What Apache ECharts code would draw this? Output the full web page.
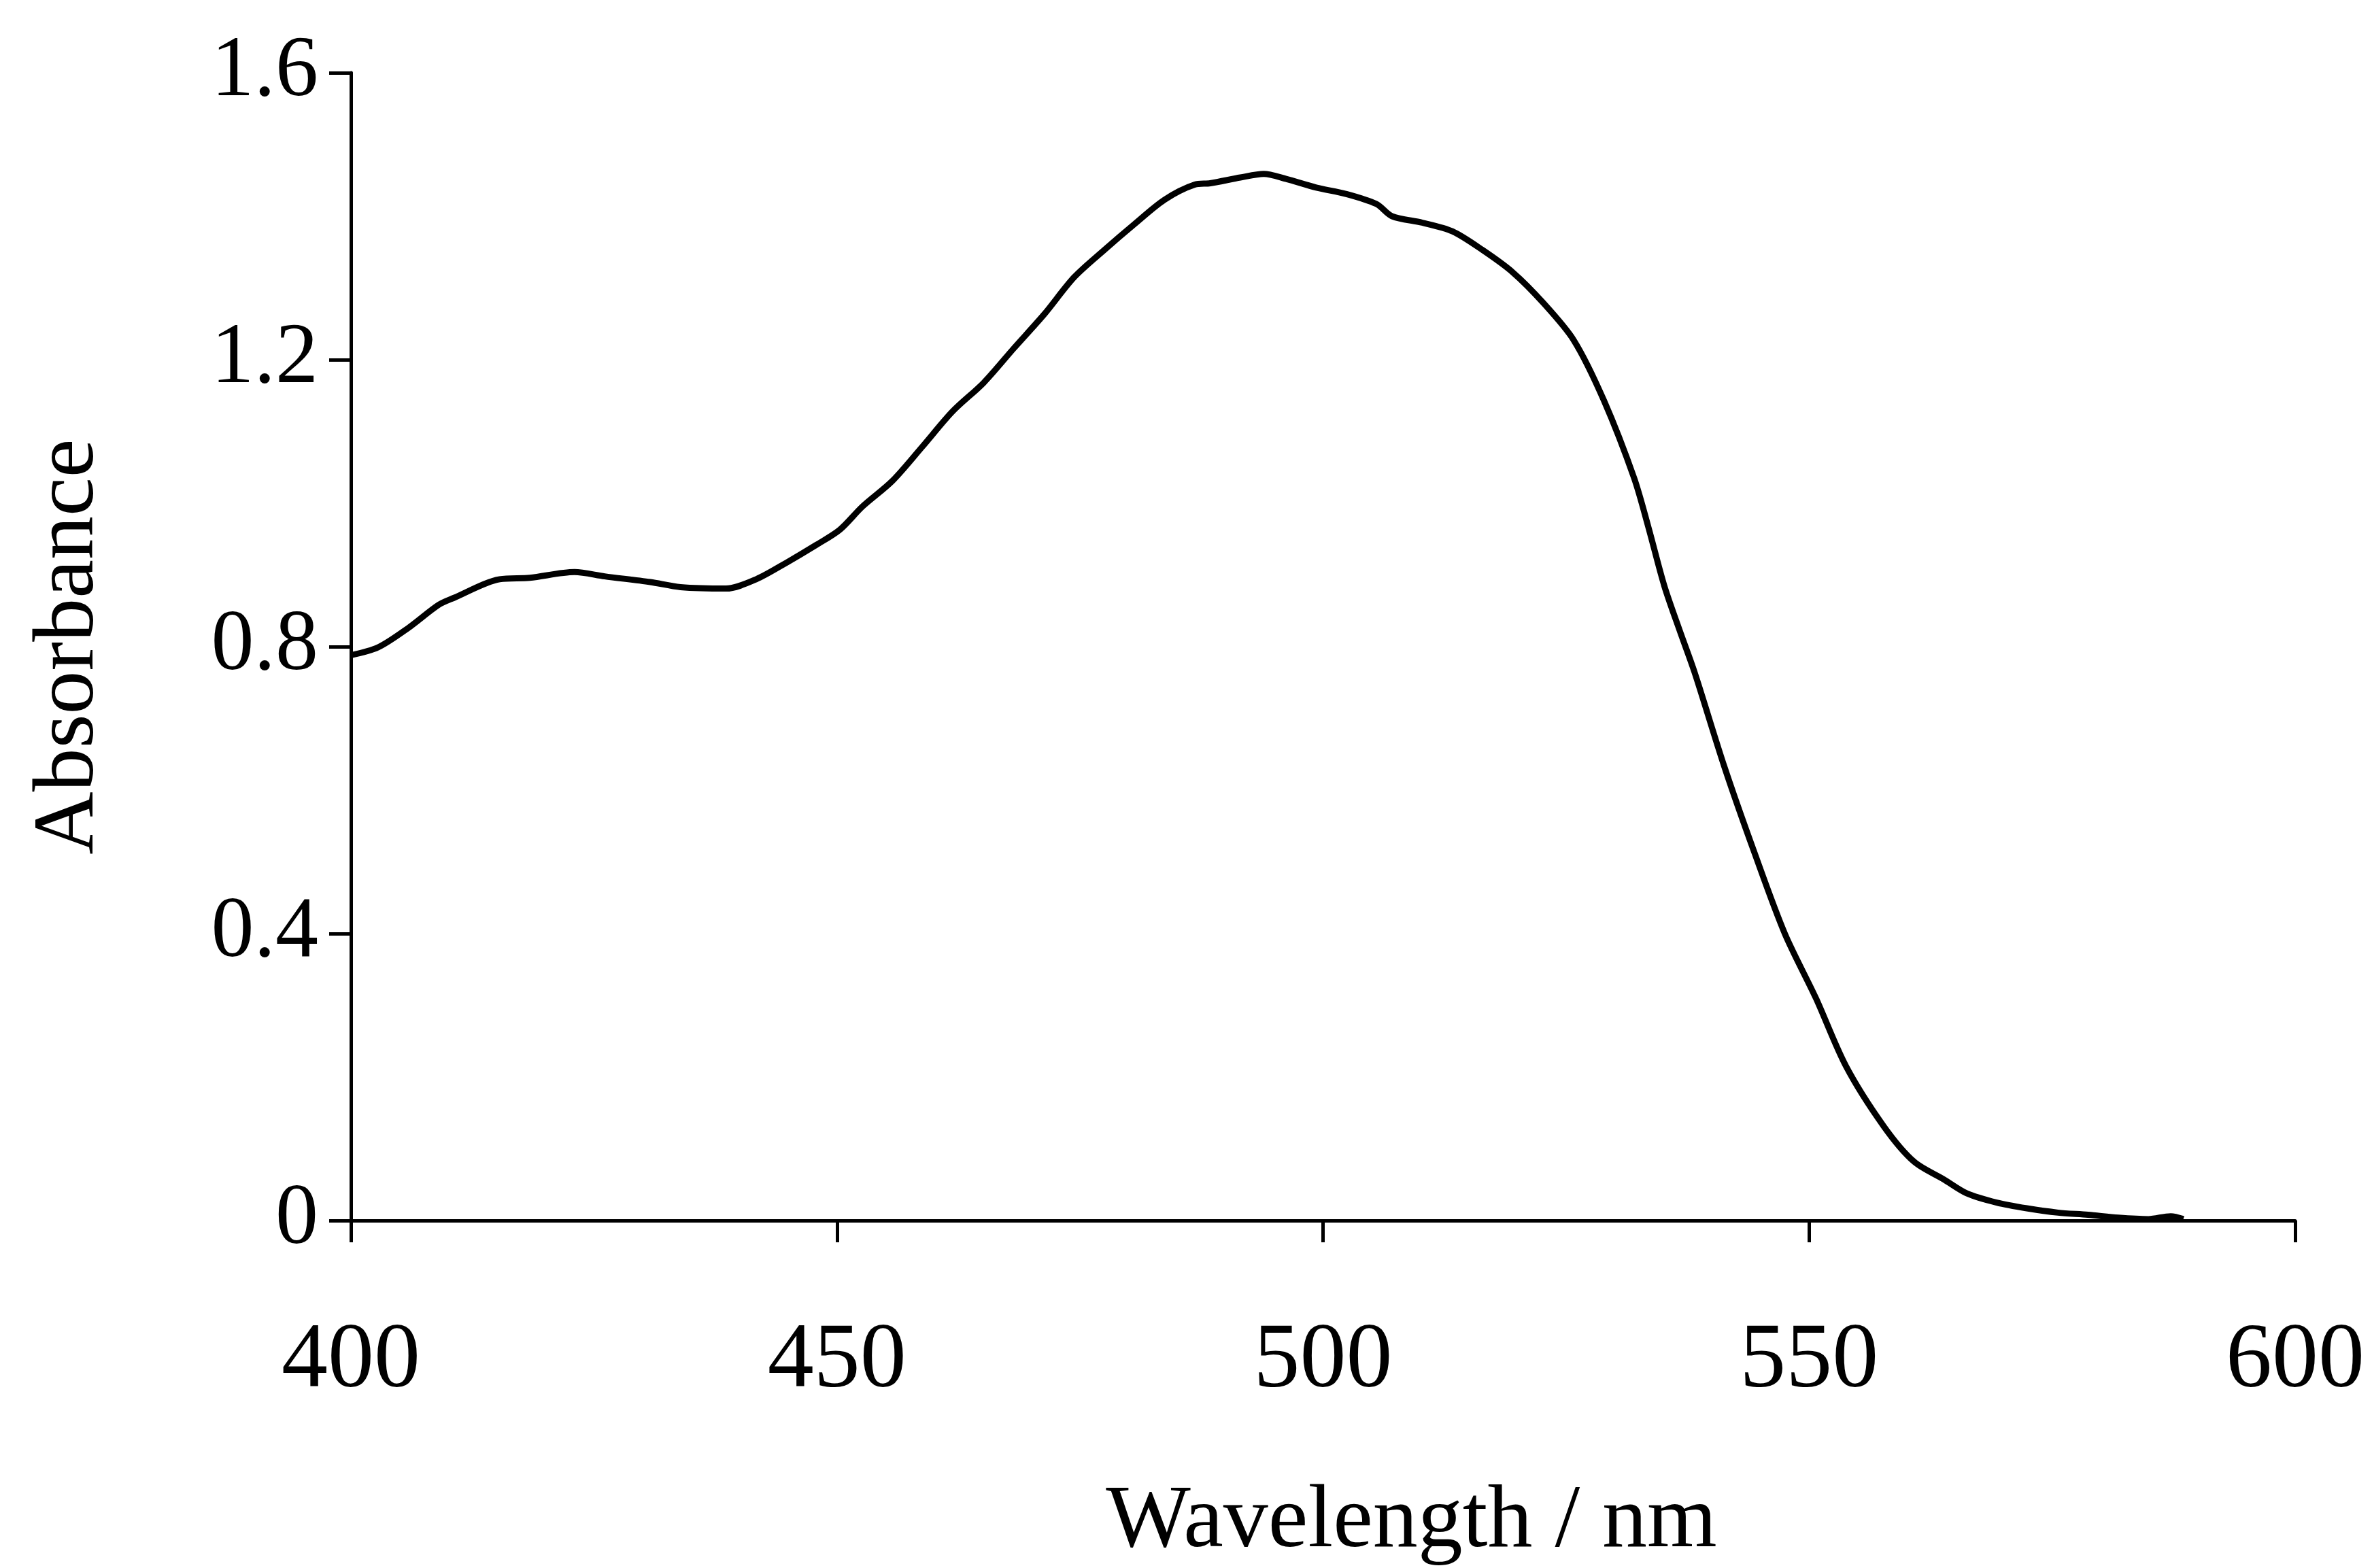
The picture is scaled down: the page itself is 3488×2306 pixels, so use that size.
<!DOCTYPE html>
<html>
<head>
<meta charset="utf-8">
<script src="https://cdn.jsdelivr.net/npm/echarts@6/dist/echarts.min.js"></script>
<style>
html,body{margin:0;padding:0;background:#fff;}
#chart{width:3488px;height:2306px;}
</style>
</head>
<body>
<div id="chart"></div>
<script>
// Wavelength (nm)
const wavelengths = [400.0, 402.8, 405.9, 409.0, 410.6, 415.3, 418.4, 423.0, 426.1, 430.8,
  433.9, 438.6, 441.7, 444.8, 447.9, 450.3, 452.6, 455.7, 458.8, 461.9,
  465.1, 468.2, 471.3, 474.4, 477.5, 480.6, 483.7, 486.8, 488.4, 491.5,
  493.9, 496.2, 499.3, 502.4, 505.5, 507.1, 510.2, 513.3, 516.4, 519.5,
  522.6, 525.8, 528.9, 532.0, 533.5, 535.1, 536.7, 538.2, 541.3, 544.4,
  547.5, 550.7, 553.8, 557.7, 560.8, 563.9, 566.2, 569.3, 572.4, 575.6,
  578.7, 581.8, 584.9, 587.2, 588.5];
// Absorbance
const absorbance = [0.788, 0.799, 0.826, 0.858, 0.868, 0.894, 0.896, 0.904, 0.898, 0.890,
  0.883, 0.881, 0.894, 0.917, 0.942, 0.963, 0.995, 1.031, 1.079, 1.128,
  1.168, 1.216, 1.263, 1.315, 1.353, 1.389, 1.423, 1.444, 1.446, 1.454,
  1.459, 1.452, 1.440, 1.431, 1.417, 1.400, 1.391, 1.379, 1.353, 1.322,
  1.280, 1.227, 1.143, 1.035, 0.965, 0.885, 0.822, 0.765, 0.632, 0.512,
  0.400, 0.310, 0.215, 0.131, 0.082, 0.057, 0.038, 0.025, 0.017, 0.011,
  0.008, 0.004, 0.002, 0.006, 0.002];
const xTickLabels = ['400', '450', '500', '550', '600'];
const yTickLabels = ['0', '0.4', '0.8', '1.2', '1.6'];
const xTitle = 'Wavelength / nm';
const yTitle = 'Absorbance';

const seriesData = wavelengths.map((w, i) => [w, absorbance[i]]);
const font = '"Liberation Serif", "Times New Roman", serif';

const chart = echarts.init(document.getElementById('chart'), null, {renderer: 'canvas'});
chart.setOption({
  backgroundColor: '#ffffff',
  animation: false,
  grid: {left: 516, right: 113, top: 107, bottom: 511, containLabel: false, outerBoundsMode: 'none'},
  xAxis: {
    type: 'value', min: 400, max: 600, interval: 50,
    name: xTitle, nameLocation: 'middle', nameGap: 378,
    nameTextStyle: {fontFamily: font, fontSize: 132, color: '#000', padding: [0, 0, 0, 260]},
    axisLine: {show: true, onZero: false, lineStyle: {color: '#000', width: 5}},
    axisTick: {show: true, inside: false, length: 32, lineStyle: {color: '#000', width: 5}},
    axisLabel: {fontFamily: font, fontSize: 136, color: '#000', margin: 140,
      formatter: v => xTickLabels[Math.round((v - 400) / 50)]},
    splitLine: {show: false}
  },
  yAxis: {
    type: 'value', min: 0, max: 1.6, interval: 0.4,
    name: yTitle, nameLocation: 'middle', nameGap: 350, nameRotate: 90,
    nameTextStyle: {fontFamily: font, fontSize: 128, color: '#000'},
    axisLine: {show: true, lineStyle: {color: '#000', width: 5}},
    axisTick: {show: true, inside: false, length: 32, lineStyle: {color: '#000', width: 5}},
    axisLabel: {fontFamily: font, fontSize: 126, color: '#000', margin: 48,
      formatter: v => yTickLabels[Math.round(v / 0.4)]},
    splitLine: {show: false}
  },
  series: [{
    type: 'line', data: seriesData, showSymbol: false, smooth: 0.3,
    lineStyle: {color: '#000', width: 9}, clip: false
  }]
});
</script>
</body>
</html>
